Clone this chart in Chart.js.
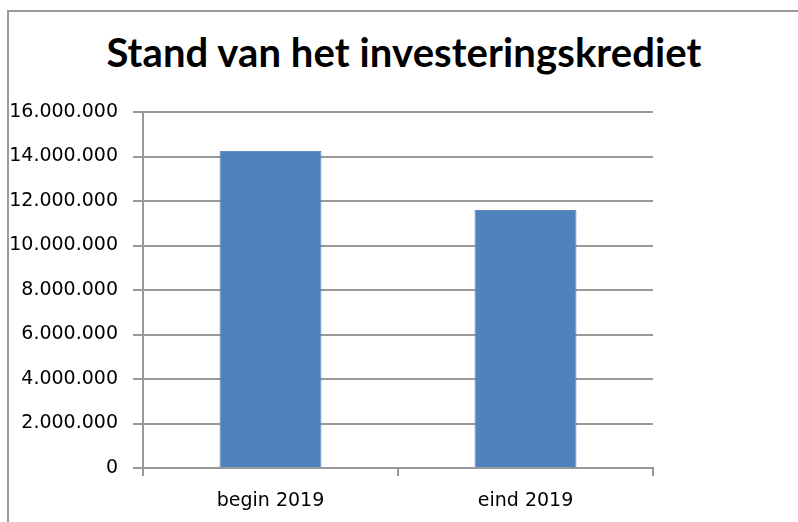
<!DOCTYPE html>
<html>
<head>
<meta charset="utf-8">
<script src="https://cdn.jsdelivr.net/npm/chart.js@4/dist/chart.umd.min.js"></script>
<style>
  html, body { margin: 0; padding: 0; background: #fff; overflow: hidden; }
  body { width: 798px; height: 522px; position: relative; }
  #frame { position: absolute; left: 7px; top: 10px; width: 900px; height: 700px; border: 2px solid #9a9a9a; box-sizing: border-box; }
  #title { position: absolute; left: 0; top: 30px; width: 808px; text-align: center;
           font-family: Lato, "Open Sans", sans-serif; font-weight: 700; font-size: 40px; letter-spacing: 0.1px; color: #000; line-height: 44px; white-space: nowrap; }
  canvas { position: absolute; left: 0; top: 0; }
</style>
</head>
<body>
<div id="frame"></div>
<div id="title">Stand van het investeringskrediet</div>
<canvas id="c" width="798" height="522"></canvas>
<script>
const categories = ['begin 2019', 'eind 2019'];
const creditValues = [14250000, 11600000];
const yTickValues = [0, 2000000, 4000000, 6000000, 8000000, 10000000, 12000000, 14000000, 16000000];
const yTickLabels = ['0', '2.000.000', '4.000.000', '6.000.000', '8.000.000', '10.000.000', '12.000.000', '14.000.000', '16.000.000'];

const gridColor = '#999999';
const tickFont = { family: '"DejaVu Sans", sans-serif', size: 19 };

new Chart(document.getElementById('c'), {
  type: 'bar',
  data: {
    labels: categories,
    datasets: [{
      label: 'Stand van het investeringskrediet',
      data: creditValues,
      backgroundColor: '#4F81BD',
      borderColor: '#5E8CC4',
      borderWidth: 1,
      categoryPercentage: 0.8,
      barPercentage: 0.5
    }]
  },
  options: {
    responsive: false,
    animation: false,
    layout: { padding: { left: 0, right: 145, top: 112, bottom: 0 } },
    plugins: { legend: { display: false }, title: { display: false }, tooltip: { enabled: false } },
    scales: {
      x: {
        offset: true,
        border: { display: true, color: gridColor, width: 2 },
        grid: { display: true, offset: true, drawOnChartArea: false, drawTicks: true, tickLength: 8, color: gridColor, lineWidth: 2 },
        ticks: { color: '#000', font: tickFont, padding: 14 },
        afterFit: (s) => { s.height = 54; }
      },
      y: {
        min: 0,
        max: 16000000,
        border: { display: true, color: gridColor, width: 2 },
        grid: { color: gridColor, lineWidth: 2, drawTicks: true, tickLength: 10 },
        afterBuildTicks: (s) => { s.ticks = yTickValues.map(v => ({ value: v })); },
        ticks: {
          color: '#000', font: tickFont, padding: 15,
          callback: (v) => { const i = yTickValues.indexOf(v); return i >= 0 ? yTickLabels[i] : ''; }
        },
        afterFit: (s) => { s.width = 143; }
      }
    }
  }
});
</script>
</body>
</html>
